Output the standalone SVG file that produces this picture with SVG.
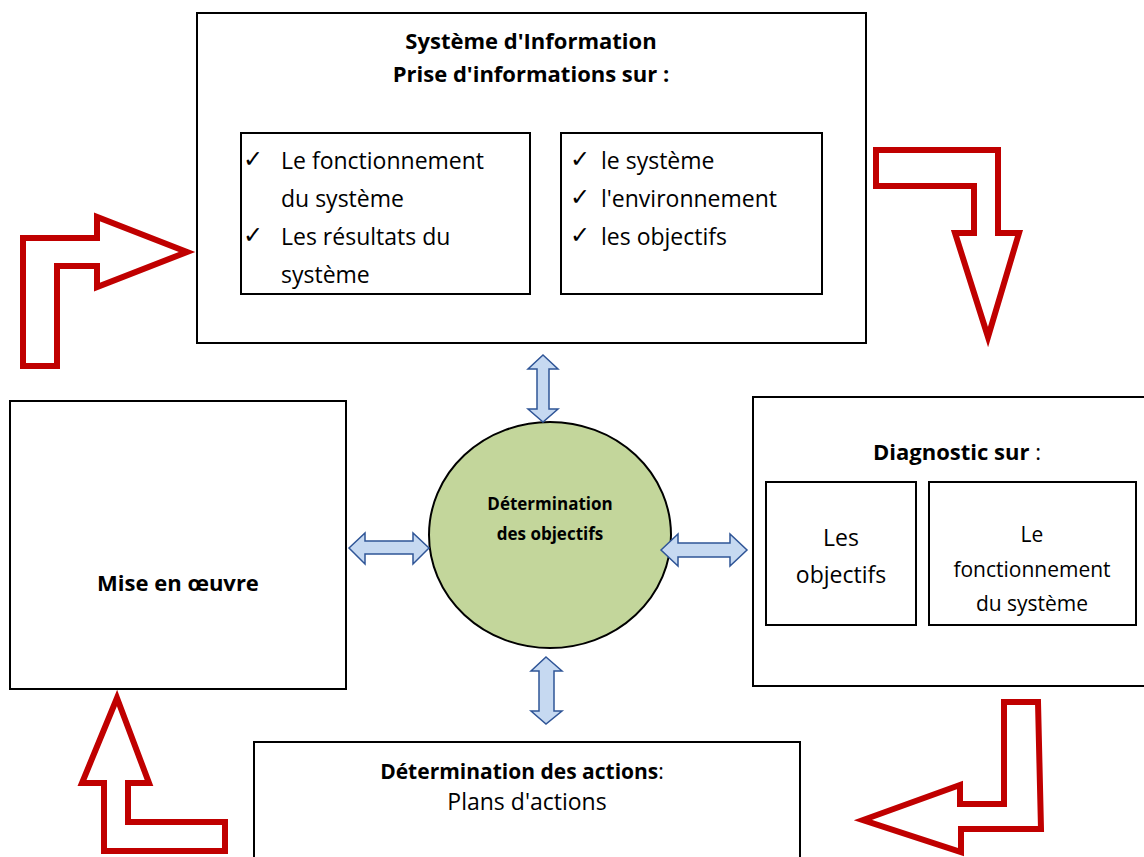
<svg xmlns="http://www.w3.org/2000/svg" width="1144" height="857" viewBox="0 0 1144 857">
<style>
text{font-family:"Open Sans","DejaVu Sans",sans-serif;fill:#000;font-variant-ligatures:none}
.box{fill:#fff;stroke:#000;stroke-width:2}
.red{fill:#fff;stroke:#c00000;stroke-width:6;stroke-linejoin:miter}
.dbl{fill:#c6d9f1;stroke:#2f5597;stroke-width:1.5;stroke-linejoin:miter}
.b{font-weight:bold}
.t23{font-size:23px}
.t22{font-size:22px}
.t21{font-size:21px}
.ck{font-family:"DejaVu Sans",sans-serif;font-size:24px}
.m{text-anchor:middle}
</style>
<g id="systeme-information">
<rect class="box" x="197" y="13" width="669" height="330"/>
<text class="b t22 m" x="531" y="49">Système d'Information</text>
<text class="b t22 m" x="531" y="82">Prise d'informations sur :</text>
<rect class="box" x="241" y="133" width="289" height="161"/>
<text class="ck" x="243" y="167">✓</text>
<text class="t23" x="281" y="169">Le fonctionnement</text>
<text class="t23" x="281" y="207">du système</text>
<text class="ck" x="243" y="243">✓</text>
<text class="t23" x="281" y="245">Les résultats du</text>
<text class="t23" x="281" y="283">système</text>
<rect class="box" x="561" y="133" width="261" height="161"/>
<text class="ck" x="570" y="167">✓</text>
<text class="t23" x="601" y="169">le système</text>
<text class="ck" x="570" y="205">✓</text>
<text class="t23" x="601" y="207">l'environnement</text>
<text class="ck" x="570" y="243">✓</text>
<text class="t23" x="601" y="245">les objectifs</text>
</g>
<g id="mise-en-oeuvre">
<rect class="box" x="10" y="401" width="336" height="288"/>
<text class="b t22 m" x="178" y="591">Mise en œuvre</text>
</g>
<g id="determination-objectifs">
<ellipse cx="550" cy="535" rx="121" ry="113" fill="#c3d69b" stroke="#000" stroke-width="2"/>
<text class="b m" style="font-size:17px" x="550" y="510">Détermination</text>
<text class="b m" style="font-size:17px" x="550" y="540">des objectifs</text>
</g>
<g id="diagnostic">
<rect class="box" x="753" y="397" width="400" height="289"/>
<text class="t22 m" x="957" y="460"><tspan class="b">Diagnostic sur</tspan> :</text>
<rect class="box" x="766" y="482" width="150" height="143"/>
<text class="t23 m" x="841" y="546">Les</text>
<text class="t23 m" x="841" y="583">objectifs</text>
<rect class="box" x="929" y="482" width="207" height="143"/>
<text class="t21 m" x="1032" y="542">Le</text>
<text class="t21 m" x="1032" y="577">fonctionnement</text>
<text class="t21 m" x="1032" y="611">du système</text>
</g>
<g id="determination-actions">
<rect class="box" x="254" y="742" width="546" height="130"/>
<text class="t21 m" x="522" y="779"><tspan class="b">Détermination des actions</tspan>:</text>
<text class="t23 m" x="527" y="810">Plans d'actions</text>
</g>
<g id="connectors">
<polygon class="red" points="23,366 23,238 97,238 97,217 187,252 97,287 97,266 57,266 57,366"/>
<polygon class="red" points="876,150 998,150 998,233 1019,233 988,337 955,233 974,233 974,186 876,186"/>
<polygon class="red" points="1004,702 1038,702 1041,829 961,829 961,852 863,820 960,785 960,804 1004,804"/>
<polygon class="red" points="117,698 149,783 128,783 128,822 225,822 225,851 104,851 104,783 82,783"/>
<polygon class="dbl" points="543,355 558,369 549,369 549,409 558,409 543,422 528,409 537,409 537,369 528,369"/>
<polygon class="dbl" points="546,657 562,671 554,671 554,711 562,711 546,724 531,711 539,711 539,671 531,671"/>
<polygon class="dbl" points="349,548 365,533 365,541 413,541 413,533 429,548 413,564 413,554 365,554 365,564"/>
<polygon class="dbl" points="661,550 678,534 678,543 730,543 730,534 747,550 730,566 730,557 678,557 678,566"/>
</g>
</svg>
